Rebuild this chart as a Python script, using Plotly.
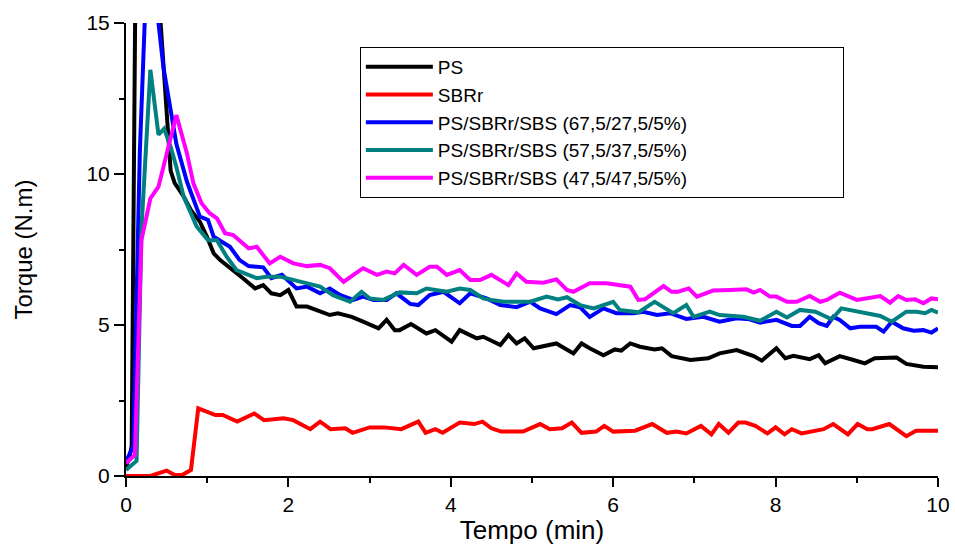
import plotly.graph_objects as go

# ---- data ----
ps_x = [0, 0.05, 0.07, 0.13, 0.25, 0.45, 0.5, 0.55, 0.6, 0.7, 0.8, 0.91, 1.0, 1.08, 1.16, 1.32, 1.44,
        1.59, 1.69, 1.79, 1.90, 2.0, 2.10, 2.23, 2.35, 2.51, 2.61, 2.78, 2.92, 3.11, 3.21, 3.31, 3.37,
        3.51, 3.70, 3.81, 4.01, 4.11, 4.32, 4.40, 4.61, 4.71, 4.81, 4.91, 5.02, 5.30, 5.51, 5.61, 5.71,
        5.82, 5.88, 6.02, 6.10, 6.21, 6.33, 6.51, 6.60, 6.72, 6.95, 7.17, 7.31, 7.52, 7.73, 7.83, 8.01,
        8.12, 8.22, 8.42, 8.53, 8.61, 8.79, 8.96, 9.10, 9.22, 9.49, 9.61, 9.82, 10.0]
ps_y = [0.3, 0.7, 1.0, 21, 22, 13.8, 11.8, 10.1, 9.7, 9.3, 8.8, 8.42, 7.9, 7.37, 7.15, 6.82, 6.55,
        6.21, 6.32, 6.05, 5.99, 6.16, 5.61, 5.61, 5.50, 5.33, 5.39, 5.27, 5.11, 4.89, 5.17, 4.83, 4.83,
        5.03, 4.72, 4.83, 4.45, 4.83, 4.56, 4.61, 4.34, 4.67, 4.39, 4.56, 4.23, 4.39, 4.06, 4.39, 4.23,
        4.06, 4.0, 4.19, 4.15, 4.39, 4.28, 4.19, 4.23, 3.97, 3.84, 3.90, 4.06, 4.17, 3.97, 3.82, 4.23,
        3.90, 3.98, 3.87, 4.0, 3.73, 3.97, 3.84, 3.73, 3.90, 3.92, 3.71, 3.62, 3.60]

sbrr_x = [0, 0.3, 0.5, 0.6, 0.69, 0.8, 0.89, 1.10, 1.19, 1.37, 1.58, 1.70, 1.94, 2.06, 2.27, 2.39,
          2.52, 2.70, 2.79, 3.0, 3.18, 3.39, 3.60, 3.69, 3.81, 3.90, 4.11, 4.29, 4.39, 4.50, 4.62,
          4.89, 5.10, 5.22, 5.37, 5.49, 5.61, 5.79, 5.89, 6.0, 6.27, 6.48, 6.66, 6.78, 6.90, 7.08,
          7.21, 7.30, 7.42, 7.54, 7.63, 7.75, 7.90, 8.0, 8.11, 8.20, 8.32, 8.59, 8.71, 8.89, 9.01,
          9.13, 9.19, 9.40, 9.61, 9.73, 9.85, 10.0]
sbrr_y = [0, 0, 0.18, 0.03, 0.03, 0.2, 2.24, 2.02, 2.02, 1.80, 2.07, 1.85, 1.91, 1.85, 1.55, 1.80,
          1.55, 1.58, 1.43, 1.61, 1.61, 1.55, 1.80, 1.43, 1.55, 1.43, 1.77, 1.72, 1.80, 1.58, 1.47,
          1.47, 1.72, 1.55, 1.58, 1.77, 1.43, 1.47, 1.66, 1.47, 1.50, 1.72, 1.43, 1.47, 1.41, 1.66,
          1.38, 1.72, 1.43, 1.77, 1.77, 1.66, 1.41, 1.61, 1.38, 1.55, 1.41, 1.55, 1.72, 1.38, 1.72,
          1.55, 1.55, 1.72, 1.32, 1.50, 1.50, 1.50]

b675_x = [0, 0.09, 0.17, 0.23, 0.30, 0.40, 0.46, 0.54, 0.62, 0.75, 0.91, 1.01, 1.08, 1.28, 1.40,
          1.51, 1.69, 1.79, 1.92, 2.10, 2.23, 2.39, 2.51, 2.64, 2.80, 2.92, 3.05, 3.21, 3.33, 3.50,
          3.60, 3.74, 3.91, 4.11, 4.24, 4.44, 4.61, 4.81, 4.98, 5.10, 5.30, 5.47, 5.59, 5.71, 5.88,
          6.04, 6.25, 6.37, 6.54, 6.70, 6.90, 7.11, 7.31, 7.52, 7.68, 7.81, 8.01, 8.20, 8.30, 8.42,
          8.53, 8.63, 8.71, 8.79, 8.92, 9.04, 9.24, 9.33, 9.43, 9.57, 9.70, 9.82, 9.92, 10.0]
b675_y = [0.47, 1.0, 10.7, 15.0, 17.0, 15.0, 13.55, 12.34, 11.0, 9.75, 8.59, 8.48, 7.92, 7.59, 7.15,
          6.95, 6.91, 6.55, 6.66, 6.21, 6.27, 6.05, 6.21, 5.99, 5.83, 5.94, 5.83, 5.83, 6.05, 5.70,
          5.66, 5.99, 6.10, 5.72, 6.05, 5.88, 5.66, 5.59, 5.77, 5.55, 5.36, 5.66, 5.59, 5.27, 5.55,
          5.39, 5.39, 5.44, 5.33, 5.39, 5.20, 5.27, 5.11, 5.22, 5.19, 5.08, 5.17, 4.97, 4.97, 5.27,
          5.06, 4.97, 5.27, 5.17, 4.89, 4.94, 4.94, 4.78, 5.11, 4.89, 4.81, 4.83, 4.75, 4.89]

b575_x = [0, 0.13, 0.19, 0.30, 0.40, 0.47, 0.55, 0.62, 0.71, 0.87, 1.01, 1.12, 1.24, 1.36, 1.61,
          1.73, 1.90, 2.14, 2.39, 2.55, 2.76, 2.90, 3.0, 3.17, 3.37, 3.58, 3.70, 3.95, 4.11, 4.24,
          4.40, 4.50, 4.65, 4.98, 5.18, 5.32, 5.43, 5.59, 5.76, 6.0, 6.08, 6.31, 6.51, 6.74, 6.90,
          6.99, 7.19, 7.31, 7.60, 7.81, 7.93, 8.01, 8.14, 8.30, 8.49, 8.69, 8.81, 9.04, 9.29, 9.43,
          9.61, 9.74, 9.84, 9.92, 10.0]
b575_y = [0.2, 0.5, 8.15, 13.45, 11.3, 11.5, 10.9, 10.24, 9.25, 8.26, 7.81, 7.81, 7.26, 6.82, 6.55,
          6.60, 6.60, 6.43, 6.27, 5.99, 5.77, 6.10, 5.88, 5.83, 6.08, 6.05, 6.21, 6.10, 6.21, 6.16,
          5.88, 5.83, 5.77, 5.77, 5.94, 5.85, 5.92, 5.66, 5.55, 5.77, 5.50, 5.42, 5.77, 5.39, 5.66,
          5.27, 5.44, 5.33, 5.27, 5.14, 5.33, 5.44, 5.25, 5.50, 5.44, 5.19, 5.55, 5.44, 5.30, 5.11,
          5.44, 5.44, 5.39, 5.50, 5.41]

b475_x = [0, 0.11, 0.19, 0.30, 0.40, 0.62, 0.75, 0.83, 0.93, 1.03, 1.12, 1.22, 1.32, 1.51, 1.61,
          1.77, 1.90, 2.06, 2.23, 2.39, 2.51, 2.68, 2.80, 2.92, 3.09, 3.21, 3.31, 3.42, 3.58, 3.74,
          3.83, 3.95, 4.11, 4.24, 4.36, 4.50, 4.71, 4.81, 4.93, 5.14, 5.30, 5.43, 5.51, 5.71, 5.92,
          6.0, 6.21, 6.31, 6.39, 6.62, 6.72, 6.80, 6.93, 7.03, 7.23, 7.44, 7.64, 7.73, 7.81, 7.93,
          8.01, 8.14, 8.26, 8.42, 8.55, 8.63, 8.79, 9.0, 9.29, 9.41, 9.51, 9.61, 9.72, 9.82, 9.92, 10.0]
b475_y = [0.42, 0.70, 7.81, 9.19, 9.58, 11.95, 10.69, 9.69, 9.03, 8.70, 8.53, 8.04, 7.98, 7.54, 7.59,
          7.04, 7.26, 7.04, 6.95, 6.99, 6.88, 6.43, 6.66, 6.88, 6.66, 6.77, 6.71, 6.99, 6.66, 6.93,
          6.93, 6.66, 6.82, 6.49, 6.49, 6.66, 6.32, 6.71, 6.43, 6.40, 6.51, 6.16, 6.10, 6.38, 6.38,
          6.35, 6.27, 5.83, 5.85, 6.29, 6.10, 6.10, 6.21, 5.94, 6.14, 6.16, 6.18, 6.07, 6.16, 5.94,
          5.94, 5.77, 5.77, 5.96, 5.77, 5.83, 6.07, 5.83, 5.96, 5.74, 5.96, 5.83, 5.85, 5.72, 5.88, 5.85]

series_names = ["PS", "SBRr", "PS/SBRr/SBS (67,5/27,5/5%)",
                "PS/SBRr/SBS (57,5/37,5/5%)", "PS/SBRr/SBS (47,5/47,5/5%)"]
series_x = [ps_x, sbrr_x, b675_x, b575_x, b475_x]
series_y = [ps_y, sbrr_y, b675_y, b575_y, b475_y]
series_colors = ["#000000", "#FF0000", "#0000FF", "#008080", "#FF00FF"]

x_ticks = [0, 2, 4, 6, 8, 10]
y_ticks = [0, 5, 10, 15]

FONT = "Liberation Sans, Arial, sans-serif"

fig = go.Figure()
for name, xs, ys, col in zip(series_names, series_x, series_y, series_colors):
    fig.add_trace(go.Scatter(x=xs, y=ys, mode="lines", name=name,
                             line=dict(color=col, width=4)))

fig.update_layout(
    width=955, height=546,
    margin=dict(l=126, r=17, t=23, b=70, autoexpand=False),
    paper_bgcolor="white", plot_bgcolor="white",
    font=dict(family=FONT, color="black", size=21),
    showlegend=True,
    legend=dict(x=0.288, y=0.947, xanchor="left", yanchor="top",
                orientation="h", entrywidth=400, entrywidthmode="pixels",
                bgcolor="white", bordercolor="black", borderwidth=1,
                font=dict(family=FONT, size=19, color="black"),
                itemwidth=67, tracegroupgap=0),
)
fig.update_xaxes(
    range=[0, 10], tickvals=x_ticks, ticktext=[str(v) for v in x_ticks],
    showline=True, linecolor="black", linewidth=2, mirror=False,
    ticks="outside", ticklen=9, tickwidth=2, tickcolor="black",
    minor=dict(dtick=1, ticks="outside", ticklen=5, tickwidth=2, tickcolor="black"),
    showgrid=False, zeroline=False,
    tickfont=dict(family=FONT, size=21, color="black"),
    title=dict(text="Tempo (min)", font=dict(family=FONT, size=26, color="black"), standoff=6),
)
fig.update_yaxes(
    range=[0, 15], tickvals=y_ticks, ticktext=[str(v) for v in y_ticks],
    showline=True, linecolor="black", linewidth=2, mirror=False,
    ticks="outside", ticklen=10, tickwidth=2, tickcolor="black",
    minor=dict(dtick=2.5, ticks="outside", ticklen=5, tickwidth=2, tickcolor="black"),
    showgrid=False, zeroline=False,
    tickfont=dict(family=FONT, size=21, color="black"),
    title=dict(text="Torque (N.m)", font=dict(family=FONT, size=24, color="black"), standoff=47),
)

fig.write_html("out.html", config={"displayModeBar": False},
               post_script="document.body.style.margin='0';")
